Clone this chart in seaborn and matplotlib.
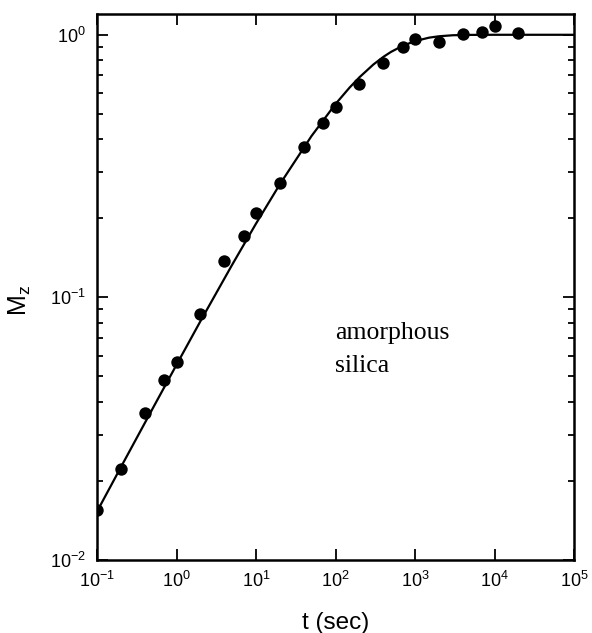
import numpy as np
import pandas as pd
import seaborn as sns
import matplotlib.pyplot as plt
from matplotlib.ticker import LogLocator, NullLocator

t_obs = [0.1, 0.2, 0.4, 0.7, 1, 2, 4, 7, 10, 20, 40, 70, 100, 200, 400, 700,
         1000, 2000, 4000, 7000, 10000, 20000]
m_obs = [0.0155, 0.0223, 0.0362, 0.0485, 0.0569, 0.0865, 0.137, 0.171, 0.209,
         0.273, 0.375, 0.461, 0.531, 0.650, 0.780, 0.898, 0.963, 0.938, 1.009,
         1.024, 1.080, 1.020]

# Fitted curve
t_fit = [0.1, 0.2, 0.5, 1, 2, 5, 10, 20, 50, 100, 150, 200, 300, 400, 500, 700,
         1000, 1500, 2000, 3000, 5000, 10000, 100000]
m_fit = [0.0153, 0.0226, 0.0377, 0.0554, 0.0812, 0.133, 0.191, 0.270, 0.412,
         0.545, 0.629, 0.689, 0.771, 0.824, 0.861, 0.908, 0.946, 0.975, 0.987,
         0.996, 0.999, 1.0, 1.0]

obs = pd.DataFrame({"t": t_obs, "M": m_obs})
fit = pd.DataFrame({"t": t_fit, "M": m_fit})

sns.set_style("ticks")
plt.rcParams["font.family"] = ["Liberation Sans", "DejaVu Sans"]
plt.rcParams["mathtext.fontset"] = "custom"
plt.rcParams["mathtext.rm"] = "Liberation Sans"
plt.rcParams["mathtext.it"] = "Liberation Sans:italic"
plt.rcParams["mathtext.default"] = "regular"
plt.rcParams["axes.unicode_minus"] = False
plt.rcParams["text.color"] = "black"
plt.rcParams["axes.labelcolor"] = "black"

fig = plt.figure(figsize=(5.92, 6.33), dpi=100)
ax = fig.add_axes([0.1639, 0.1153, 0.8057, 0.8626])

sns.lineplot(data=fit, x="t", y="M", color="black", lw=1.6, ax=ax,
             estimator=None, sort=True)
sns.scatterplot(data=obs, x="t", y="M", color="black", s=80,
                edgecolor="black", linewidth=0, ax=ax, zorder=3)

ax.set_xscale("log")
ax.set_yscale("log")
ax.set_xlim(0.1, 1e5)
ax.set_ylim(0.01, 1.2)

ax.xaxis.set_major_locator(LogLocator(base=10, numticks=10))
ax.xaxis.set_minor_locator(NullLocator())
ax.yaxis.set_major_locator(LogLocator(base=10, numticks=10))
ax.yaxis.set_minor_locator(LogLocator(base=10, subs=np.arange(2, 10), numticks=10))

ax.tick_params(which="both", direction="in", top=True, right=True, width=1.3,
               labelsize=13, colors="black")
ax.tick_params(which="major", length=8)
ax.tick_params(which="minor", length=4.5)
ax.tick_params(axis="x", pad=8)
ax.tick_params(axis="y", pad=8)

for spine in ax.spines.values():
    spine.set_visible(True)
    spine.set_linewidth(1.8)
    spine.set_color("black")

ax.set_xlabel("t (sec)", fontsize=17.5, labelpad=15, color="black")
ax.set_ylabel("M$_z$", fontsize=18, color="black")
ax.yaxis.set_label_coords(-0.135, 0.475)

serif = ["Liberation Serif", "DejaVu Serif"]
ax.text(0.499, 0.436, "amorphous", transform=ax.transAxes, fontsize=18.5,
        family=serif, va="top", ha="left", color="black")
ax.text(0.499, 0.376, "silica", transform=ax.transAxes, fontsize=18.5,
        family=serif, va="top", ha="left", color="black")

fig.savefig("out.png", dpi=100)
